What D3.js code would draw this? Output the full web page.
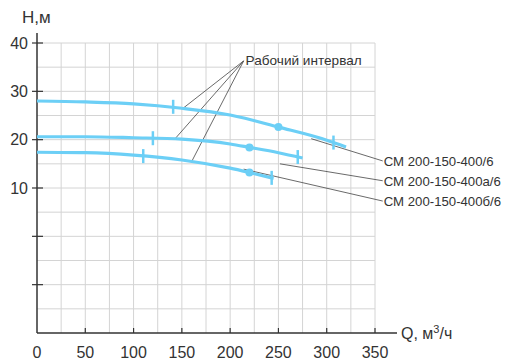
<!DOCTYPE html>
<html>
<head>
<meta charset="utf-8" />
<title>Pump curves</title>
<script src="https://d3js.org/d3.v7.min.js"></script>
<style>
  body { margin: 0; background: #fff; }
  text { font-family: "Liberation Sans", Arial, sans-serif; fill: #333; }
</style>
</head>
<body>
<svg width="505" height="360" id="chart"></svg>
<script>
// data
var xTicks = [0, 50, 100, 150, 200, 250, 300, 350];
var yTickLabels = [40, 30, 20, 10];
var yTicks = [40, 30, 20, 10, 0, -10];

var q400 = [0, 50, 100, 150, 200, 250, 300, 320];
var h400 = [28.0, 27.8, 27.4, 26.5, 25.1, 22.6, 19.9, 18.5];
var q400a = [0, 50, 100, 150, 200, 220, 250, 275];
var h400a = [20.6, 20.6, 20.4, 20.1, 19.1, 18.4, 17.3, 16.2];
var q400b = [0, 50, 100, 150, 200, 220, 245];
var h400b = [17.4, 17.3, 16.8, 15.8, 14.1, 13.2, 12.0];

// working interval marks: [q, h]
var ticks400 = [[141, 26.8], [307, 19.4]];
var ticks400a = [[120, 20.3], [270, 16.4]];
var ticks400b = [[110, 16.6], [243, 12.1]];
var dots = [[250, 22.6], [220, 18.4], [220, 13.2]];

var names = ["СМ 200-150-400/6", "СМ 200-150-400а/6", "СМ 200-150-400б/6"];

var svg = d3.select("#chart");
var x = d3.scaleLinear().domain([0, 350]).range([37, 375]);
var y = d3.scaleLinear().domain([-20, 40]).range([333, 43]);

// grid
var grid = svg.append("g").attr("stroke", "#d4d4d4").attr("stroke-width", 1);
d3.range(25, 351, 25).forEach(function(v) {
  grid.append("line").attr("x1", x(v)).attr("x2", x(v)).attr("y1", y(-20)).attr("y2", y(40));
});
d3.range(-15, 41, 5).forEach(function(v) {
  grid.append("line").attr("x1", x(0)).attr("x2", x(350)).attr("y1", y(v)).attr("y2", y(v));
});

// axes
svg.append("line").attr("x1", x(0)).attr("x2", x(0)).attr("y1", 33).attr("y2", y(-20))
  .attr("stroke", "#333").attr("stroke-width", 1.5);
svg.append("line").attr("x1", x(0)).attr("x2", 397).attr("y1", y(-20)).attr("y2", y(-20))
  .attr("stroke", "#333").attr("stroke-width", 1.5);

yTicks.forEach(function(v) {
  svg.append("line").attr("x1", x(0) - 5).attr("x2", x(0) + 6).attr("y1", y(v)).attr("y2", y(v))
    .attr("stroke", "#333").attr("stroke-width", 1.2);
});
yTickLabels.forEach(function(v) {
  svg.append("text").attr("x", 28).attr("y", y(v) + 5.5).attr("text-anchor", "end")
    .attr("font-size", 16).text(v);
});
xTicks.forEach(function(v) {
  if (v > 0) {
    svg.append("line").attr("x1", x(v)).attr("x2", x(v)).attr("y1", y(-20) - 5).attr("y2", y(-20))
      .attr("stroke", "#333").attr("stroke-width", 1.2);
  }
  svg.append("text").attr("x", x(v)).attr("y", 358).attr("text-anchor", "middle")
    .attr("font-size", 16).text(v);
});

svg.append("text").attr("x", 22).attr("y", 23).attr("font-size", 17).text("Н,м");
var ql = svg.append("text").attr("x", 401).attr("y", 339).attr("font-size", 16);
ql.append("tspan").text("Q, м");
ql.append("tspan").attr("dy", -6).attr("font-size", 11).text("3");
ql.append("tspan").attr("dy", 6).text("/ч");

// leader lines
var lead = svg.append("g").attr("stroke", "#444").attr("stroke-width", 0.8);
var hub = [214, 36.3];
[[150, 26.3], [143, 20.2], [160.5, 15.6]].forEach(function(p) {
  lead.append("line").attr("x1", x(hub[0])).attr("y1", y(hub[1])).attr("x2", x(p[0])).attr("y2", y(p[1]));
});
var legendFrom = [[284, 20.2], [251.6, 15.0], [214, 13.9]];
var legendTo = [15.6, 11.5, 7.3];
legendFrom.forEach(function(p, i) {
  lead.append("line").attr("x1", x(p[0])).attr("y1", y(p[1])).attr("x2", x(358)).attr("y2", y(legendTo[i]));
  svg.append("text").attr("x", x(358) + 1).attr("y", y(legendTo[i]) + 5).attr("font-size", 13.2).text(names[i]);
});
svg.append("text").attr("x", x(216)).attr("y", y(36.3) + 4).attr("font-size", 13.6).text("Рабочий интервал");

// curves
var blue = "#6ccff6";
var line = d3.line().x(function(d) { return x(d[0]); }).y(function(d) { return y(d[1]); })
  .curve(d3.curveMonotoneX);
[[q400, h400], [q400a, h400a], [q400b, h400b]].forEach(function(s) {
  var pts = s[0].map(function(q, i) { return [q, s[1][i]]; });
  svg.append("path").attr("d", line(pts)).attr("fill", "none")
    .attr("stroke", blue).attr("stroke-width", 3.2);
});
ticks400.concat(ticks400a, ticks400b).forEach(function(p) {
  svg.append("line").attr("x1", x(p[0])).attr("x2", x(p[0]))
    .attr("y1", y(p[1]) - 7).attr("y2", y(p[1]) + 7)
    .attr("stroke", blue).attr("stroke-width", 2.5);
});
dots.forEach(function(p) {
  svg.append("circle").attr("cx", x(p[0])).attr("cy", y(p[1])).attr("r", 4).attr("fill", blue);
});
</script>
</body>
</html>
